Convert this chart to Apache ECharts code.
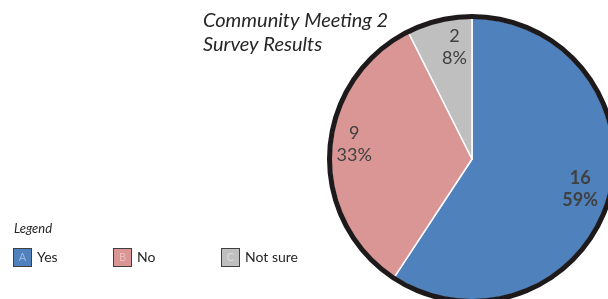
<!DOCTYPE html>
<html>
<head>
<meta charset="utf-8">
<script src="https://cdn.jsdelivr.net/npm/echarts@6/dist/echarts.min.js"></script>
<style>
  html, body { margin: 0; padding: 0; background: #fff; }
  #chart { width: 608px; height: 299px; }
</style>
</head>
<body>
<div id="chart"></div>
<script>
// survey answers
const categories = ['Yes', 'No', 'Not sure']
const letters = ['A', 'B', 'C']
const counts = [16, 9, 2]
const colors = ['#4f81bd', '#da9694', '#bfbfbf']
const letterColors = ['#9db8dc', '#ebbab9', '#dcdcdc']

const font = 'Lato, "DejaVu Sans", sans-serif'
const center = [472, 159]

const chart = echarts.init(document.getElementById('chart'), null, { renderer: 'canvas' })

const pieData = categories.map((name, i) => ({
  name: name,
  value: counts[i],
  itemStyle: { color: colors[i] },
}))

// one legend per item, they are not evenly spaced in the reference
// (the empty icon still leaves a 5px gap, hence -5)
const legendLeft = [9, 109, 217]
const legends = categories.map((name, i) => ({
  data: [name],
  left: legendLeft[i],
  top: 248,
  padding: 0,
  icon: 'none',
  itemWidth: 0,
  itemGap: 0,
  selectedMode: false,
  formatter: (n) => '{box|' + letters[i] + '}{txt|' + n + '}',
  textStyle: {
    rich: {
      box: {
        width: 17,
        height: 17,
        lineHeight: 17,
        align: 'center',
        backgroundColor: colors[i],
        borderColor: '#3f3f3f',
        borderWidth: 1,
        color: letterColors[i],
        fontSize: 11,
        fontFamily: font,
      },
      txt: {
        padding: [0, 0, 0, 6],
        fontSize: 14,
        color: '#262626',
        fontFamily: font,
      },
    },
  },
}))

chart.setOption({
  animation: false,
  title: {
    text: 'Community Meeting 2\nSurvey Results',
    left: 203,
    top: 9,
    padding: 0,
    textStyle: {
      fontFamily: font,
      fontStyle: 'italic',
      fontWeight: 'normal',
      fontSize: 20,
      lineHeight: 24,
      color: '#262626',
    },
  },
  legend: legends,
  graphic: [
    {
      type: 'text',
      left: 14,
      top: 222,
      style: {
        text: 'Legend',
        font: 'italic 13px ' + font,
        fill: '#262626',
      },
    },
  ],
  series: [
    {
      name: 'slices',
      type: 'pie',
      center: center,
      radius: [0, 141],
      startAngle: 90,
      clockwise: true,
      silent: true,
      label: { show: false },
      labelLine: { show: false },
      itemStyle: { borderColor: '#fff', borderWidth: 1.5 },
      data: pieData,
    },
    {
      // outer black rim
      name: 'rim',
      type: 'pie',
      center: center,
      radius: [140, 145],
      silent: true,
      label: { show: false },
      labelLine: { show: false },
      itemStyle: { color: '#1e1a1b' },
      data: [{ value: 1, name: 'rim' }],
    },
    {
      // transparent ring only used to place labels at ~0.8 of radius
      name: 'labels',
      type: 'pie',
      center: center,
      radius: [98, 126],
      startAngle: 90,
      clockwise: true,
      silent: true,
      percentPrecision: 0,
      itemStyle: { color: 'rgba(0,0,0,0)' },
      labelLine: { show: false },
      label: {
        show: true,
        position: 'inside',
        formatter: '{c}\n{d}%',
        fontFamily: font,
        fontSize: 18,
        lineHeight: 22,
        color: '#404040',
      },
      data: categories.map((name, i) => ({
        name: name,
        value: counts[i],
        label: i === 0 ? { fontWeight: 'bold', offset: [-2, -3] } : i === 2 ? { offset: [9, 0] } : { offset: [-3, -8] },
      })),
    },
  ],
})
</script>
</body>
</html>
